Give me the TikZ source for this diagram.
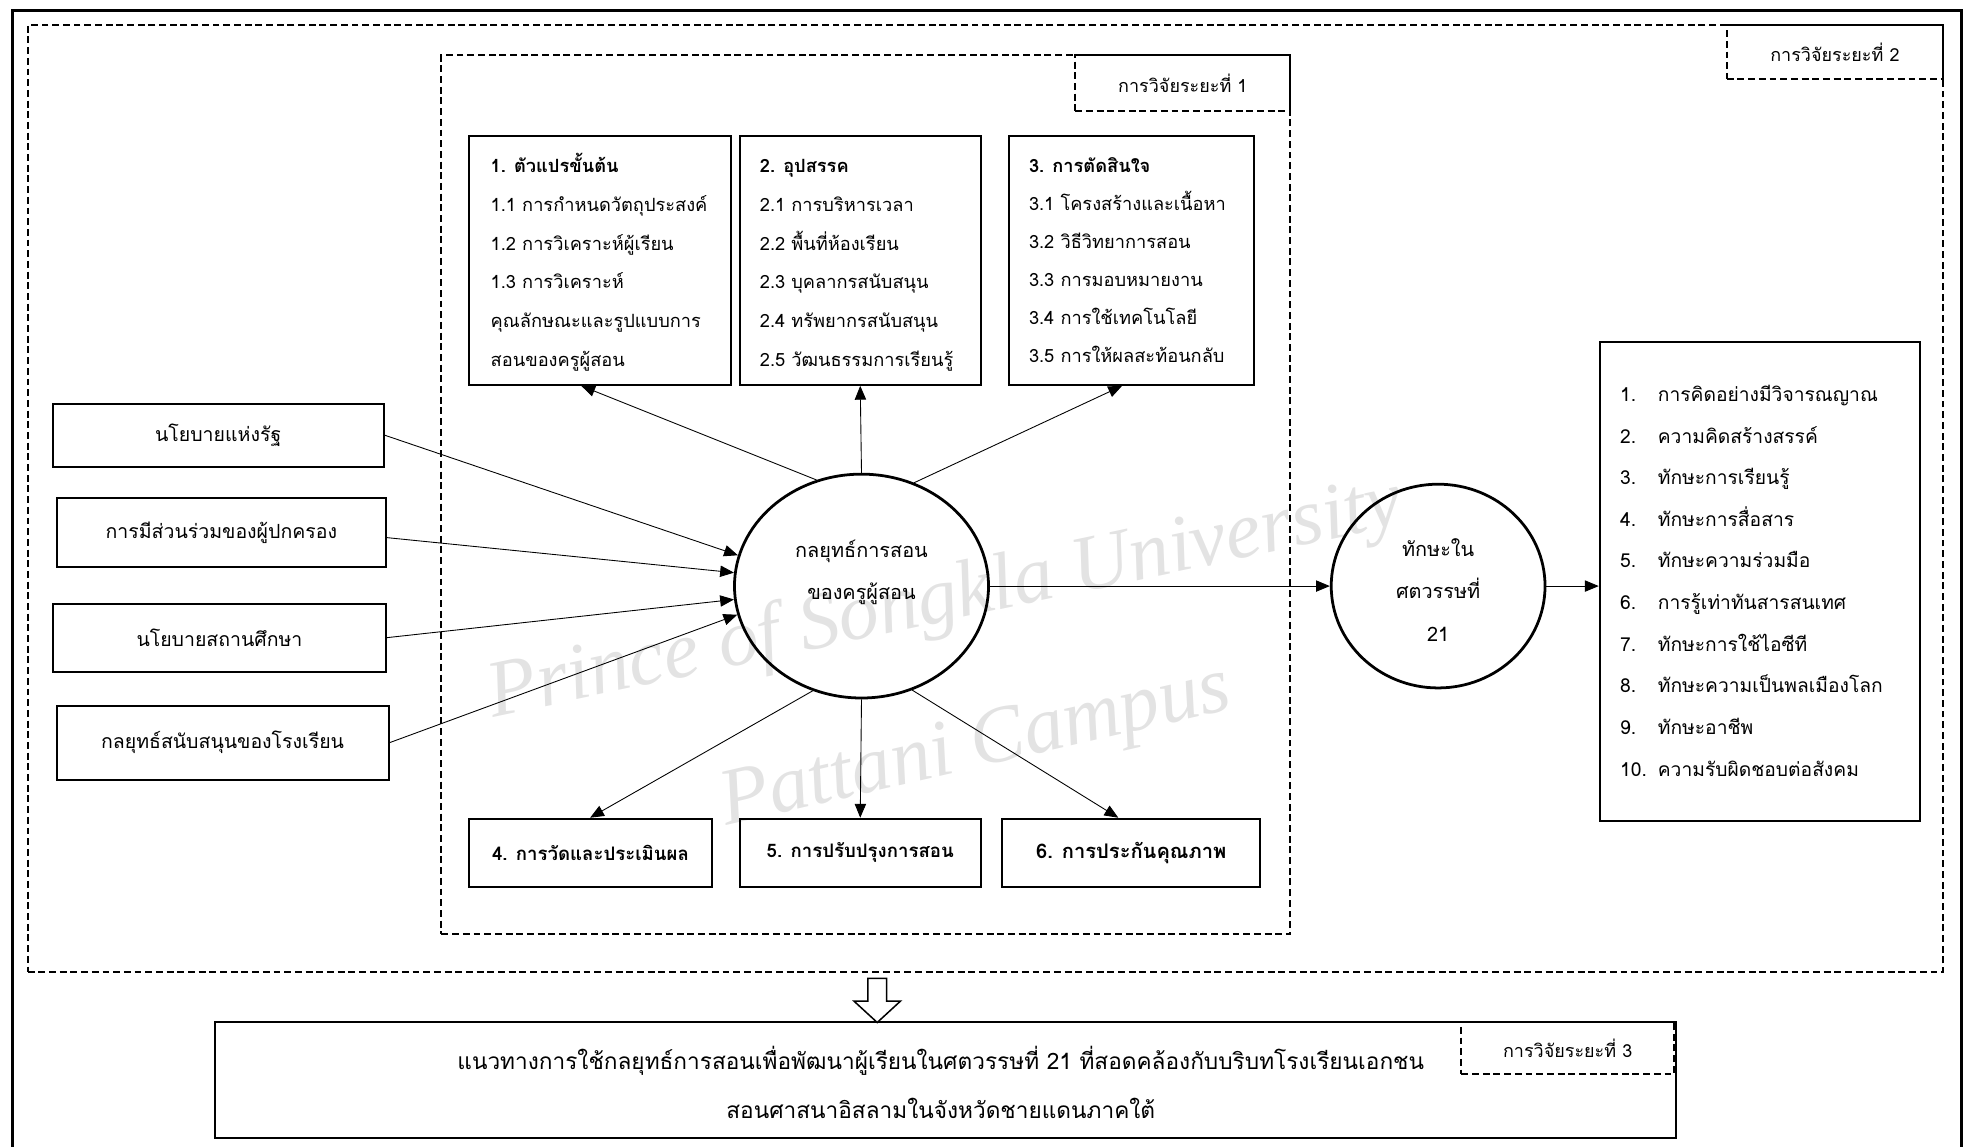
\documentclass[tikz,border=0pt]{standalone}
\usepackage{fontspec}
\setmainfont[Script=Thai]{Loma}
\newfontfamily\wmfont{Liberation Serif}
\usetikzlibrary{arrows.meta,calc,shapes.geometric}
\newcommand{\firstline}{\rule{0pt}{17pt}}
\begin{document}
\begin{tikzpicture}[x=1pt,y=-1pt,
  box/.style={draw,line width=1.6pt,inner sep=0pt},
  dbox/.style={draw,line width=1.6pt,dash pattern=on 5.5pt off 3pt,inner sep=0pt},
  lab/.style={font=\fontsize{14.3}{16}\selectfont},
  txt/.style={anchor=north west,align=left,inner sep=0pt,font=\fontsize{14.5}{30.8}\selectfont},
  ctr/.style={align=center,inner sep=0pt,font=\fontsize{15.5}{20}\selectfont},
  ell/.style={draw,ellipse,line width=2.2pt,inner sep=0pt},
  arr/.style={draw,line width=0.7pt,-{Triangle[length=11pt,width=9pt]}},
  wm/.style={text=gray!22,font=\wmfont\itshape\fontsize{64}{66}\selectfont,inner sep=0pt}
]
\useasboundingbox (0,0) rectangle (1568,912);
% outer frame (open at bottom)
\draw[line width=2.4pt] (10,912) -- (10,8) -- (1560,8) -- (1560,912);
% watermark
\node[wm,rotate=12] (wm1) at (752,478) {Prince of Songkla University};
\node[wm,rotate=13] (wm2) at (776,596) {Pattani Campus};
% phase 2
\node[dbox,minimum width=1523pt,minimum height=753pt] (p2) at (783.5,396.5) {};
\node[dbox,minimum width=172pt,minimum height=43pt,lab] (p2l) at (1459,41.5) {การวิจัยระยะที่ 2};
% phase 1
\node[dbox,minimum width=675pt,minimum height=699pt] (p1) at (688.5,393.5) {};
\node[dbox,minimum width=171pt,minimum height=44pt,lab] (p1l) at (940.5,66) {การวิจัยระยะที่ 1};
% top boxes
\node[box,minimum width=208pt,minimum height=198pt] (b1) at (477,207) {};
\node[box,minimum width=192pt,minimum height=198pt] (b2) at (684,207) {};
\node[box,minimum width=195pt,minimum height=198pt] (b3) at (899.5,207) {};
\node[txt] (b1t) at (390,120) {\firstline\textbf{1. ตัวแปรขั้นต้น}\\1.1 การกำหนดวัตถุประสงค์\\1.2 การวิเคราะห์ผู้เรียน\\1.3 การวิเคราะห์\\คุณลักษณะและรูปแบบการ\\สอนของครูผู้สอน};
\node[txt] (b2t) at (604,120) {\firstline\textbf{2. อุปสรรค}\\2.1 การบริหารเวลา\\2.2 พื้นที่ห้องเรียน\\2.3 บุคลากรสนับสนุน\\2.4 ทรัพยากรสนับสนุน\\2.5 วัฒนธรรมการเรียนรู้};
\node[txt,font=\fontsize{14.5}{30.2}\selectfont] (b3t) at (818,120) {\firstline\textbf{3. การตัดสินใจ}\\3.1 โครงสร้างและเนื้อหา\\3.2 วิธีวิทยาการสอน\\3.3 การมอบหมายงาน\\3.4 การใช้เทคโนโลยี\\3.5 การให้ผลสะท้อนกลับ};
% bottom boxes
\node[box,minimum width=193pt,minimum height=54pt,ctr,font=\bfseries\fontsize{14.8}{16}\selectfont] (b4) at (469.5,678) {4. การวัดและประเมินผล};
\node[box,minimum width=192pt,minimum height=54pt,ctr,font=\bfseries\fontsize{14.8}{16}\selectfont] (b5) at (684,678) {5. การปรับปรุงการสอน};
\node[box,minimum width=205pt,minimum height=54pt,ctr,font=\bfseries\fontsize{16}{18}\selectfont] (b6) at (899.5,678) {6. การประกันคุณภาพ};
% left boxes
\node[box,minimum width=263pt,minimum height=50pt,ctr] (l1) at (173.5,346) {นโยบายแห่งรัฐ};
\node[box,minimum width=262pt,minimum height=55pt,ctr] (l2) at (176,423.5) {การมีส่วนร่วมของผู้ปกครอง};
\node[box,minimum width=265pt,minimum height=54pt,ctr] (l3) at (174.5,507) {นโยบายสถานศึกษา};
\node[box,minimum width=264pt,minimum height=59pt,ctr] (l4) at (177,590.5) {กลยุทธ์สนับสนุนของโรงเรียน};
% ellipses
\node[ell,minimum width=202pt,minimum height=178pt] (e1) at (685,466) {};
\node[ctr,font=\fontsize{15.8}{18}\selectfont] (e1t) at (685,455) {กลยุทธ์การสอน\\[15pt]ของครูผู้สอน};
\node[ell,minimum width=170pt,minimum height=162pt] (e2) at (1143.5,466) {};
\node[ctr,font=\fontsize{15.8}{18}\selectfont] (e2t) at (1143.5,469) {ทักษะใน\\[16pt]ศตวรรษที่\\[16pt]21};
% right box
\node[box,minimum width=255pt,minimum height=381pt] (rb) at (1399.5,462.5) {};
\node[txt,font=\fontsize{15.3}{33.1}\selectfont] (rbn) at (1288,302) {\firstline 1.\\2.\\3.\\4.\\5.\\6.\\7.\\8.\\9.\\10.};
\node[txt,font=\fontsize{15.3}{33.1}\selectfont] (rbt) at (1318,302) {\firstline การคิดอย่างมีวิจารณญาณ\\ความคิดสร้างสรรค์\\ทักษะการเรียนรู้\\ทักษะการสื่อสาร\\ทักษะความร่วมมือ\\การรู้เท่าทันสารสนเทศ\\ทักษะการใช้ไอซีที\\ทักษะความเป็นพลเมืองโลก\\ทักษะอาชีพ\\ความรับผิดชอบต่อสังคม};
% arrows from centre
\draw[arr] (e1.113) -- ($(b1.south west)+(90,0)$);
\draw[arr] (e1.90) -- (b2.south);
\draw[arr] (e1.63) -- ($(b3.south west)+(91,0)$);
\draw[arr] (e1.245) -- ($(b4.north west)+(97,0)$);
\draw[arr] (e1.270) -- (b5.north);
\draw[arr] (e1.296) -- ($(b6.north west)+(93,0)$);
% arrows from left
\draw[arr] (l1.east) -- (e1.166);
\draw[arr] ($(l2.east)+(0,4)$) -- (e1.174);
\draw[arr] (l3.east) -- (e1.186);
\draw[arr] (l4.east) -- (e1.193);
% to outputs
\draw[arr] (e1.east) -- (e2.west);
\draw[arr] (e2.east) -- (e2.east -| rb.west);
% bottom
\node[box,minimum width=1162pt,minimum height=92pt] (fb) at (752,859) {};
\node[dbox,minimum width=169pt,minimum height=41pt,lab] (p3l) at (1246.5,833.5) {การวิจัยระยะที่ 3};
\node[ctr,font=\fontsize{18}{39}\selectfont] (fbt) at (748,861) {แนวทางการใช้กลยุทธ์การสอนเพื่อพัฒนาผู้เรียนในศตวรรษที่ 21 ที่สอดคล้องกับบริบทโรงเรียนเอกชน\\สอนศาสนาอิสลามในจังหวัดชายแดนภาคใต้};
% hollow block arrow
\draw[line width=1.2pt,fill=white] (690,778) -- (705,778) -- (705,796) -- (716,796) -- (697.5,813) -- (679,796) -- (690,796) -- cycle;
\end{tikzpicture}
\end{document}
